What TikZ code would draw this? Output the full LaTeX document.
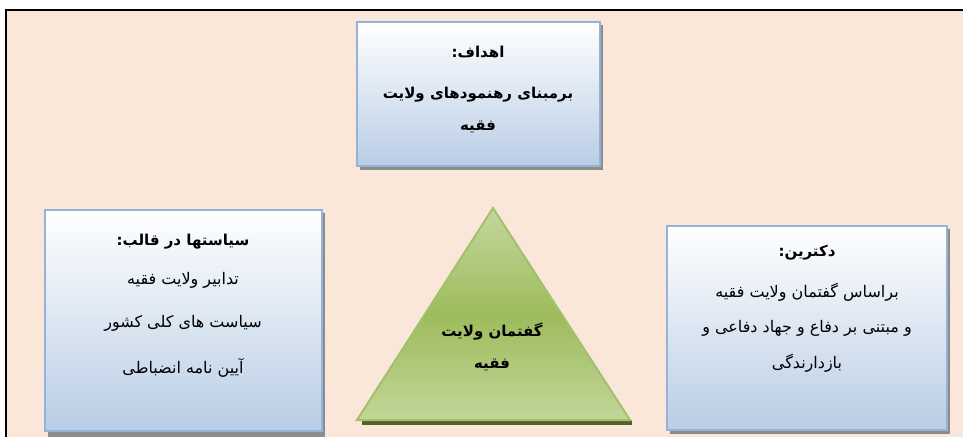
\documentclass[tikz,border=0pt]{standalone}
\usepackage{fontspec}
\newfontfamily\arabicfont[Script=Arabic]{DejaVu Sans}
\TeXXeTstate=1
\definecolor{peach}{HTML}{FBE7D9}
\definecolor{boxline}{HTML}{95B3D7}
\definecolor{boxbot}{HTML}{B9CDE5}
\definecolor{shadowgray}{HTML}{8C8C8C}
\definecolor{tritop}{HTML}{C4D79D}
\definecolor{trimid}{HTML}{9DBC5C}
\definecolor{tribot}{HTML}{C2D69A}
\definecolor{triline}{HTML}{A3C06A}
\definecolor{trishadow}{HTML}{4F6228}
\pgfdeclareverticalshading{trishade}{100bp}{color(0bp)=(tribot); color(25bp)=(tribot); color(50bp)=(trimid); color(75bp)=(tritop); color(100bp)=(tritop)}
\tikzset{
  infobox/.style={draw=boxline, line width=2.5pt, top color=white, bottom color=boxbot},
  boxshadow/.style={fill=shadowgray, draw=none},
  regtext/.style={font=\arabicfont\fontsize{16}{19}\selectfont, inner sep=0pt},
  boldtext/.style={font=\arabicfont\bfseries\fontsize{15}{18}\selectfont, inner sep=0pt},
}
\begin{document}
\begin{tikzpicture}[x=1pt,y=-1pt]
\useasboundingbox (0,0) rectangle (963,437);
\fill[white] (0,0) rectangle (963,437);
\fill[peach] (6,10) rectangle (963,437);
\draw[line width=2pt] (6,437) -- (6,10) -- (963,10);

% top box
\fill[boxshadow] (360,25) rectangle (603,170);
\path[infobox] (357,22) rectangle (600,166);
\node[boldtext] (t1) at (478,52) {\beginR اهداف:\endR};
\node[boldtext] (t2) at (478,95) {\beginR برمبنای رهنمودهای ولایت\endR};
\node[boldtext] (t3) at (478,127) {\beginR فقیه\endR};

% left box
\fill[boxshadow] (48,213) rectangle (325,437);
\path[infobox] (45,210) rectangle (322,431);
\node[boldtext] (l1) at (183,242) {\beginR سیاستها در قالب:\endR};
\node[regtext] (l2) at (183,280) {\beginR تدابیر ولایت فقیه\endR};
\node[regtext] (l3) at (183,323) {\beginR سیاست های کلی کشور\endR};
\node[regtext] (l4) at (183,368) {\beginR آیین نامه انضباطی\endR};

% right box
\fill[boxshadow] (670,229) rectangle (950,434);
\path[infobox] (667,226) rectangle (947,430);
\node[boldtext] (r1) at (807,253) {\beginR دکترین:\endR};
\node[regtext] (r2) at (807,292) {\beginR براساس گفتمان ولایت فقیه\endR};
\node[regtext] (r3) at (807,328) {\beginR و مبتنی بر دفاع و جهاد دفاعی و\endR};
\node[regtext] (r4) at (807,363) {\beginR بازدارندگی\endR};

% triangle
\fill[trishadow] (362,420) rectangle (632,424.5);
\path[draw=triline, line width=2pt, shading=trishade]
  (493,208) -- (630,420) -- (357,420) -- cycle;
\node[boldtext] (g1) at (492,332) {\beginR گفتمان ولایت\endR};
\node[boldtext] (g2) at (492,365) {\beginR فقیه\endR};
\end{tikzpicture}
\end{document}
